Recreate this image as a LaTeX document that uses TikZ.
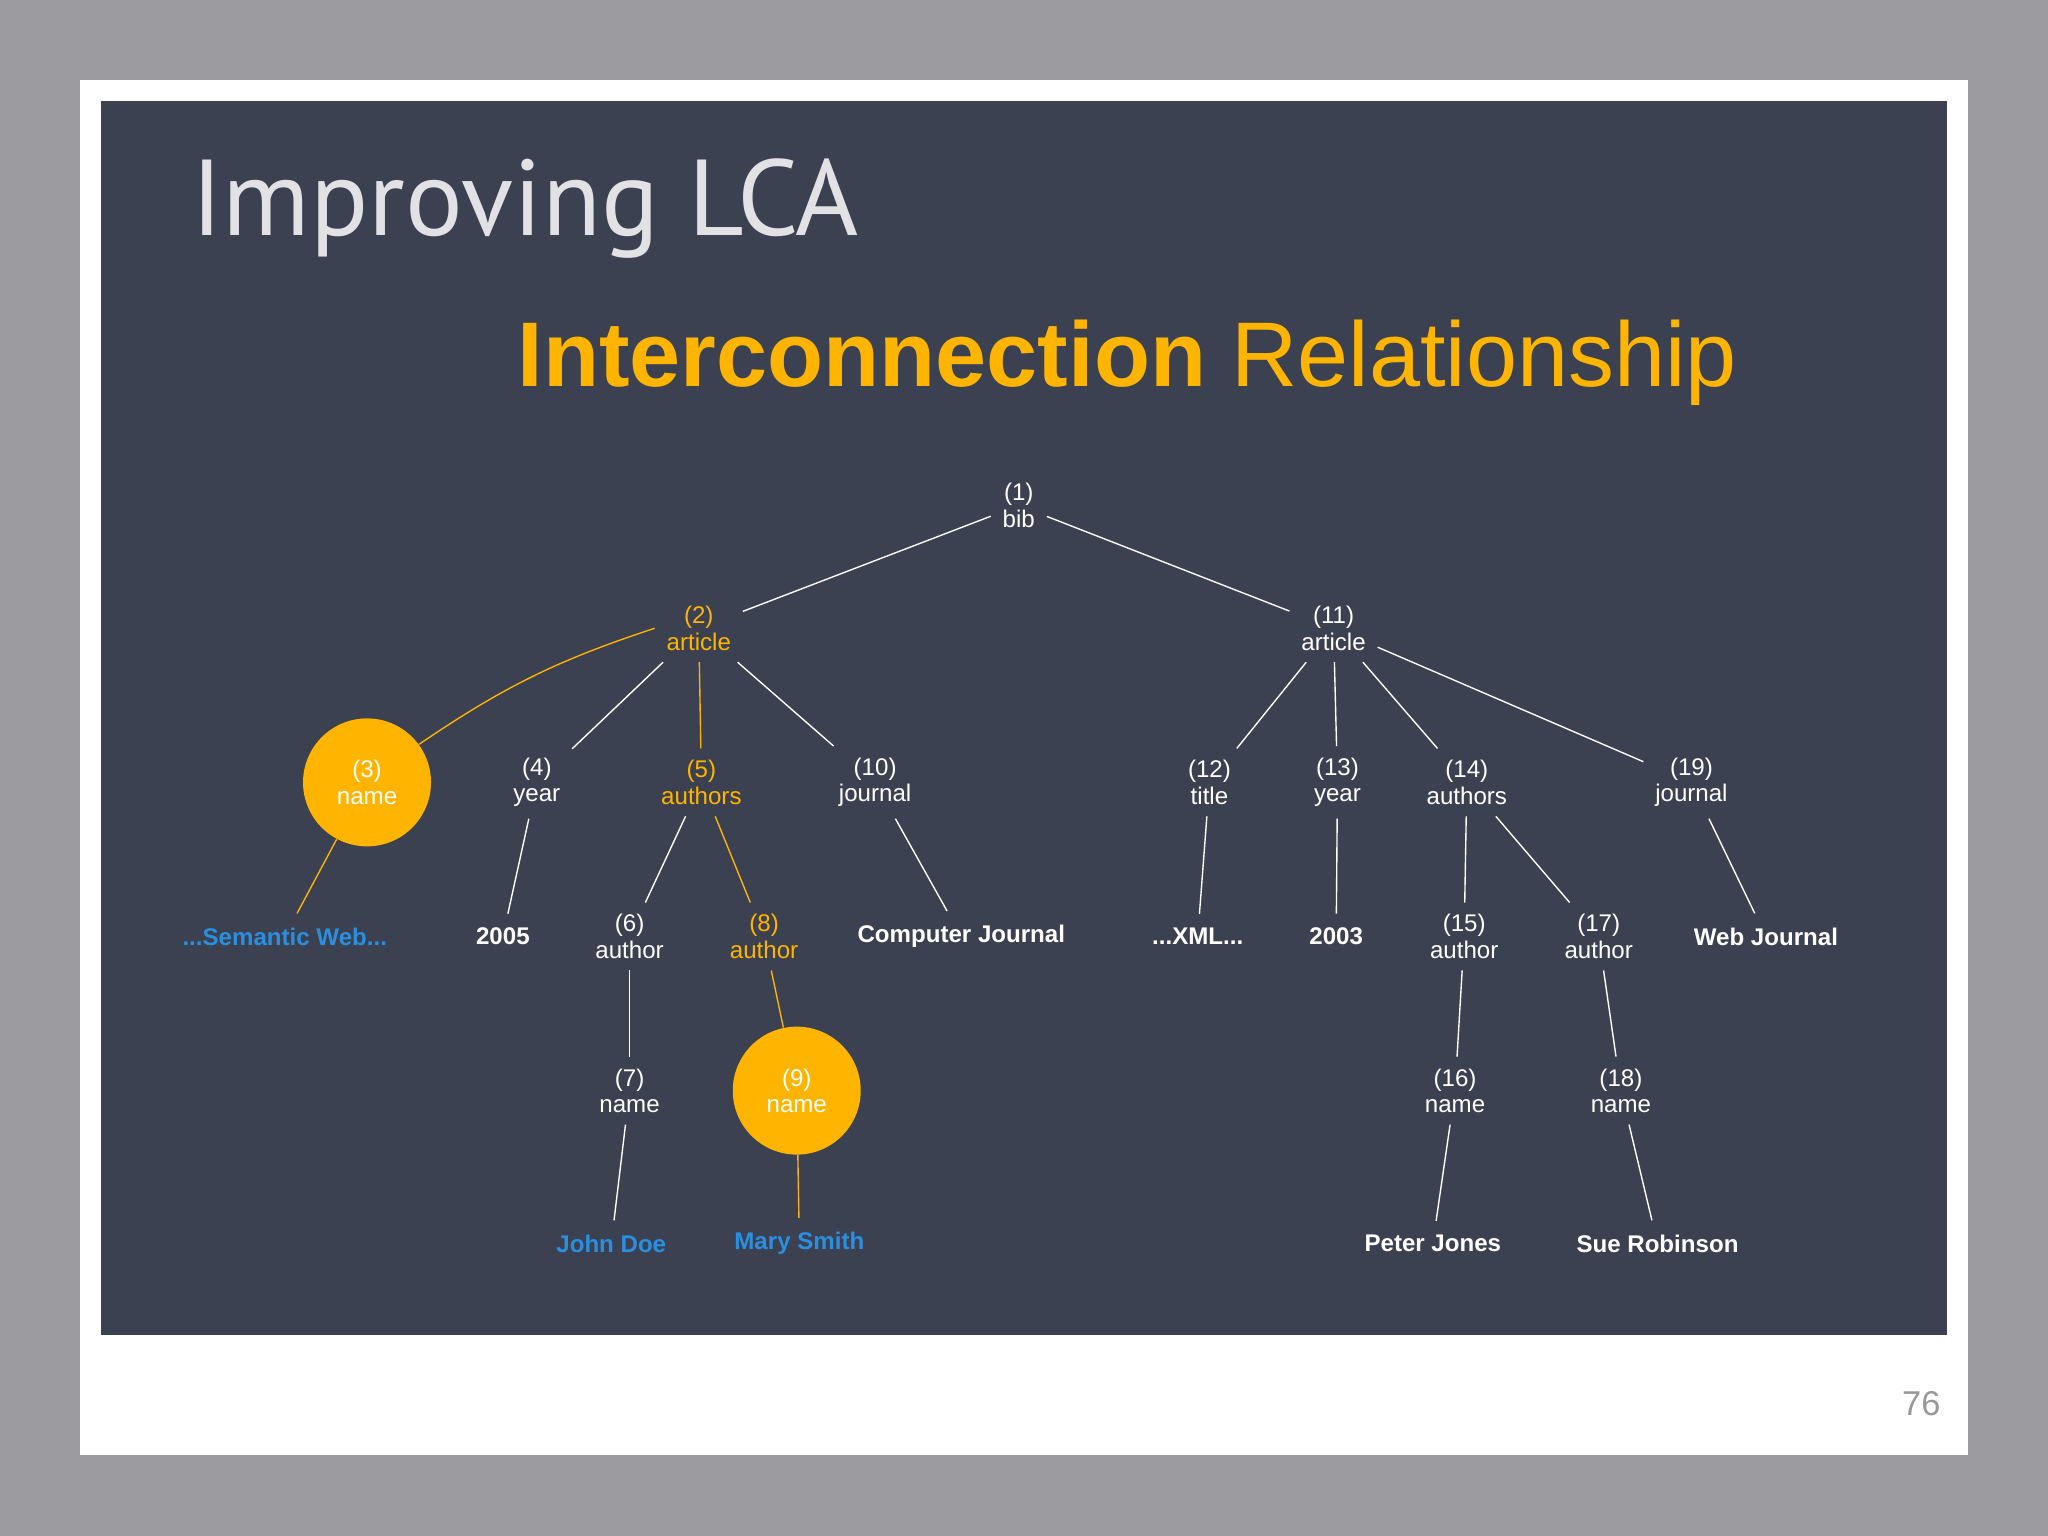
\documentclass[tikz,border=0pt]{standalone}
\usepackage{fontspec}
\setmainfont{Liberation Sans}
\newfontfamily\titlefont{PT Sans}
\definecolor{panel}{HTML}{3B4150}
\definecolor{ylw}{HTML}{FFB400}
\definecolor{blu}{HTML}{2A8FE0}
\definecolor{outer}{HTML}{9C9BA0}
\begin{document}
\begin{tikzpicture}[x=0.02cm,y=-0.02cm,
  lab/.style={text=white,font=\fontsize{10.5}{11.5}\selectfont,align=center,inner sep=5pt},
  ylab/.style={lab,text=ylw},
  leaf/.style={text=white,font=\fontsize{10.5}{12}\selectfont\bfseries,inner sep=6pt},
  bleaf/.style={leaf,text=blu},
  circ/.style={circle,fill=ylw,minimum size=1.96cm,inner sep=0pt,text=white,font=\fontsize{10.5}{11.5}\selectfont,align=center},
  wline/.style={draw=white,line width=0.6pt},
  yline/.style={draw=ylw,line width=0.6pt}]
\fill[outer] (0,0) rectangle (1568,1176);
\useasboundingbox (0,0) rectangle (1568,1176);
\fill[white] (61,61) rectangle (1507,1114);
\fill[panel] (77,77) rectangle (1491,1022);
\node[text=gray!80,font=\fontsize{15}{15}\selectfont] (pg) at (1471,1075) {76};
\node[anchor=base west,text=white!85!panel,font=\titlefont\fontsize{47}{50}\selectfont,inner sep=0pt] (t1) at (146,180) {Improving LCA};
\node[anchor=base west,text=ylw,font=\fontsize{40}{44}\selectfont,inner sep=0pt] (t2) at (396,296) {\textbf{Interconnection} Relationship};
% nodes
\node[lab] (n1) at (780,387) {(1)\\bib};
\node[ylab] (n2) at (535,481) {(2)\\article};
\node[lab] (n11) at (1021,481) {(11)\\article};
\node[circ] (n3) at (281,599) {(3)\\name};
\node[lab] (n4) at (411,599) {(4)\\year};
\node[ylab] (n5) at (537,599) {(5)\\authors};
\node[lab] (n10) at (670,599) {(10)\\journal};
\node[lab] (n12) at (926,599) {(12)\\title};
\node[lab] (n13) at (1024,599) {(13)\\year};
\node[lab] (n14) at (1123,599) {(14)\\authors};
\node[lab] (n19) at (1295,599) {(19)\\journal};
\node[bleaf] (sw) at (218,717) {...Semantic Web...};
\node[leaf] (y05) at (385,717) {2005};
\node[lab] (n6) at (482,717) {(6)\\author};
\node[ylab] (n8) at (585,717) {(8)\\author};
\node[leaf] (cj) at (736,717) {Computer Journal};
\node[leaf] (xml) at (917,717) {...XML...};
\node[leaf] (y03) at (1023,717) {2003};
\node[lab] (n15) at (1121,717) {(15)\\author};
\node[lab] (n17) at (1224,717) {(17)\\author};
\node[leaf] (wj) at (1352,717) {Web Journal};
\node[lab] (n7) at (482,835) {(7)\\name};
\node[circ] (n9) at (610,835) {(9)\\name};
\node[lab] (n16) at (1114,835) {(16)\\name};
\node[lab] (n18) at (1241,835) {(18)\\name};
\node[bleaf] (jd) at (468,952) {John Doe};
\node[bleaf] (ms) at (612,952) {Mary Smith};
\node[leaf] (pj) at (1097,952) {Peter Jones};
\node[leaf] (sr) at (1269,952) {Sue Robinson};
% edges
\draw[wline] (n1) -- (n2);
\draw[wline] (n1) -- (n11);
\draw[yline] (n2.west) to[bend right=8] (n3);
\draw[wline] (n2) -- (n4);
\draw[yline] (n2) -- (n5);
\draw[wline] (n2) -- (n10);
\draw[yline] (n3) -- (sw);
\draw[wline] (n4) -- (y05);
\draw[wline] (n5) -- (n6);
\draw[yline] (n5) -- (n8);
\draw[wline] (n10) -- (cj);
\draw[wline] (n6) -- (n7);
\draw[yline] (n8) -- (n9);
\draw[wline] (n7) -- (jd);
\draw[yline] (n9) -- (ms);
\draw[wline] (n11) -- (n12);
\draw[wline] (n11) -- (n13);
\draw[wline] (n11) -- (n14);
\draw[wline] (n11) -- (n19);
\draw[wline] (n12) -- (xml);
\draw[wline] (n13) -- (y03);
\draw[wline] (n14) -- (n15);
\draw[wline] (n14) -- (n17);
\draw[wline] (n19) -- (wj);
\draw[wline] (n15) -- (n16);
\draw[wline] (n17) -- (n18);
\draw[wline] (n16) -- (pj);
\draw[wline] (n18) -- (sr);
\end{tikzpicture}
\end{document}
